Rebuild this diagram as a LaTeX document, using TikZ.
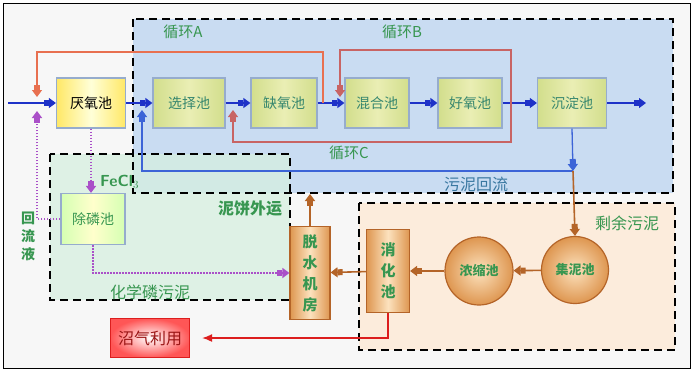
\documentclass[tikz,border=0pt]{standalone}
\usepackage{fontspec}
\newfontfamily\cjk{Noto Sans CJK SC}
\usepackage{tikz}
\usetikzlibrary{arrows.meta,positioning,calc}

\definecolor{zoneblue}{RGB}{201,220,242}
\definecolor{zonegreen}{RGB}{214,240,224}
\definecolor{zoneorange}{RGB}{252,236,220}
\definecolor{poolline}{RGB}{150,172,205}
\definecolor{poolfill}{RGB}{210,222,140}
\definecolor{poolmid}{RGB}{234,238,180}
\definecolor{pooltext}{RGB}{55,135,110}
\definecolor{labelgreen}{RGB}{55,150,80}
\definecolor{flowblue}{RGB}{30,50,200}
\definecolor{returnblue}{RGB}{60,100,215}
\definecolor{loopa}{RGB}{232,112,80}
\definecolor{loopbc}{RGB}{200,100,100}
\definecolor{dosepurple}{RGB}{170,80,200}
\definecolor{brownline}{RGB}{180,100,40}
\definecolor{sludgedark}{RGB}{222,150,80}
\definecolor{sludgelight}{RGB}{252,226,190}
\definecolor{gasred}{RGB}{220,30,30}

\begin{document}
\begin{tikzpicture}[x=1pt,y=-1pt,
   every node/.style={font=\cjk\fontsize{14}{16}\selectfont,inner sep=0pt},
   zone/.style={draw=black,line width=1.8pt,dash pattern=on 8pt off 5pt},
   pool/.style={draw=poolline,line width=1.2pt,minimum width=68pt,minimum height=50pt,
                left color=poolfill,right color=poolfill,middle color=poolmid,text=pooltext},
   sludge/.style={draw=brownline,line width=1.2pt,left color=sludgedark,right color=sludgedark,
                  middle color=sludgelight,text=labelgreen,align=center,
                  font=\cjk\bfseries\fontsize{15}{21}\selectfont},
   tank/.style={circle,draw=brownline,line width=1.2pt,inner color=sludgelight,
                outer color=sludgedark,text=labelgreen,font=\cjk\bfseries\fontsize{13}{15}\selectfont},
   lbl/.style={text=labelgreen,font=\cjk\fontsize{15}{17}\selectfont},
   blk/.style={-{Rectangle[length=5pt,width=6pt]Triangle[length=7pt,width=10pt]}},
   arr/.style={blk,line width=1.3pt,flowblue},
   loopA/.style={blk,line width=1.3pt,loopa},
   loopBC/.style={blk,line width=1.3pt,loopbc},
   ret/.style={blk,line width=1.3pt,returnblue},
   dose/.style={blk,line width=2pt,dosepurple,dash pattern=on 1.5pt off 1.5pt},
   mud/.style={blk,line width=1.6pt,brownline},
   gas/.style={-{Latex[length=10pt,width=8pt]},line width=1.4pt,gasred}
]
\useasboundingbox (0,0) rectangle (695,376);
\fill[white] (0,0) rectangle (695,376);
\draw[black,line width=1pt,fill=gray!6] (3,3) rectangle (690,368);

% zones
\fill[zoneblue] (133,19) rectangle (673,193);
\fill[zonegreen,opacity=0.75] (50,154) rectangle (290,300);
\fill[zoneorange] (359,203) rectangle (675,350);
\draw[zone] (133,19) rectangle (673,193);
\draw[zone] (50,154) rectangle (290,300);
\draw[zone] (359,203) rectangle (675,350);

% main line
\node[pool,minimum width=69pt,text=black,left color=yellow!70!orange!60,right color=yellow!70!orange!60,
      middle color=yellow!15] (YY) at (91,103) {厌氧池};
\node[pool,minimum width=72pt] (XZ) at (189,103) {选择池};
\node[pool,minimum width=66pt] (QY) at (284,103) {缺氧池};
\node[pool,minimum width=64pt] (HH) at (377,103) {混合池};
\node[pool,minimum width=64pt] (HY) at (470,103) {好氧池};
\node[pool,minimum width=69pt] (CD) at (572,103) {沉淀池};
\coordinate (inlet) at (8,103);
\coordinate (outlet) at (646,103);

\draw[arr] (inlet) -- (YY);
\draw[arr] (YY) -- (XZ);
\draw[arr] (XZ) -- (QY);
\draw[arr] (QY) -- (HH);
\draw[arr] (HH) -- (HY);
\draw[arr] (HY) -- (CD);
\draw[arr] (CD) -- (outlet);

% recycle loops
\coordinate (jA) at (323,103);
\coordinate (tipA) at (37,97);
\coordinate (jB) at (511,103);
\coordinate (tipB) at (340,97);
\coordinate (tipC) at (233,110);
\draw[loopA] (jA) -- ++(0,-51) -| (tipA);
\draw[loopBC] (jB) -- ++(0,-53) -| (tipB);
\draw[loopBC] (jB) -- ++(0,39) -| (tipC);
\node[lbl] (LA) at (183,32) {循环A};
\node[lbl] (LB) at (402,32) {循环B};
\node[lbl] (LC) at (349,153) {循环C};

% sludge return
\coordinate (split) at (573,171);
\coordinate (tipR) at (142,110);
\draw[ret] (CD.south) -- (split);
\draw[ret] (split) -| (tipR);
\node[lbl,text=returnblue!60!labelgreen,font=\cjk\fontsize{16}{18}\selectfont] (LR) at (476,184) {污泥回流};

% chemical phosphorus removal
\node[pool,minimum width=64pt,minimum height=51pt,text=labelgreen,left color=yellow!45!green!30,
      right color=yellow!45!green!30,middle color=yellow!20] (CL) at (93,219) {除磷池};
\coordinate (tipP) at (37,111);
\draw[dose] (YY.south) -- (YY.south |- CL.north);
\draw[dose] (CL.west) -| (tipP);
\node[lbl,font=\sffamily\bfseries\fontsize{16}{18}\selectfont,anchor=west] (Fe) at (100,182) {FeCl$_3$};
\node[lbl,align=center,font=\cjk\bfseries\fontsize{14}{18}\selectfont] (HL) at (28,236) {回\\流\\液};
\node[lbl,font=\cjk\fontsize{16}{18}\selectfont] (HP) at (150,292) {化学磷污泥};

% sludge line
\node[tank,minimum size=67pt] (JN) at (575,270) {集泥池};
\node[tank,minimum size=68pt] (NS) at (479,271) {浓缩池};
\node[sludge,minimum width=43pt,minimum height=83pt] (XH) at (388,271) {消\\化\\池};
\node[sludge,minimum width=40pt,minimum height=93pt] (TS) at (310,273) {脱\\水\\机\\房};
\coordinate (cake) at (310,194);
\draw[mud] (split) -- (JN.north);
\draw[mud] (JN) -- (NS);
\draw[mud] (NS) -- (XH);
\draw[mud] (XH) -- (TS);
\draw[mud] (TS.north) -- (cake);
\draw[dose] (CL.south) |- (TS.west);
\node[lbl,font=\cjk\bfseries\fontsize{16}{18}\selectfont] (NB) at (250,208) {泥饼外运};
\node[lbl,font=\cjk\fontsize{16}{18}\selectfont] (SY) at (627,223) {剩余污泥};

% biogas
\node[draw=gasred,line width=1.2pt,minimum width=79pt,minimum height=39pt,text=gasred!70!black,
      inner color=white,outer color=red!55!pink,font=\cjk\fontsize{16}{18}\selectfont] (ZQ) at (150,338) {沼气利用};
\draw[gas,shorten >=12pt] (XH.south) |- (ZQ.east);
\end{tikzpicture}
\end{document}
